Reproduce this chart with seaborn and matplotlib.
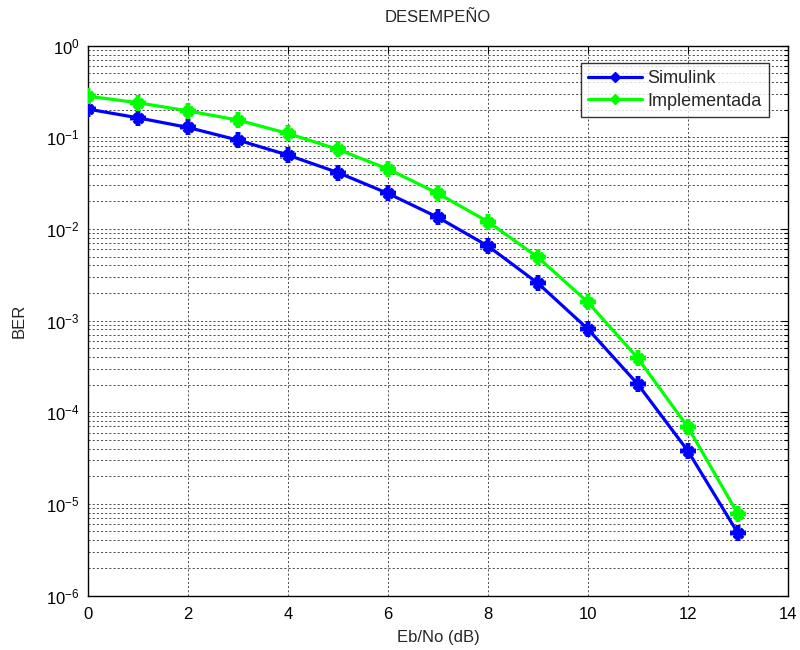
import matplotlib
matplotlib.use("Agg")
import matplotlib.pyplot as plt
import matplotlib.ticker as mticker
import numpy as np
import pandas as pd
import seaborn as sns

# Eb/No sweep and measured bit error rates
ebno_db = list(range(0, 14))
ber_simulink = [0.203, 0.163, 0.128, 0.0931, 0.0639, 0.0412, 0.0244, 0.01336,
                0.0065, 0.00255, 8.07e-4, 2.01e-4, 3.77e-5, 4.77e-6]
ber_implementada = [0.281, 0.238, 0.194, 0.154, 0.110, 0.0738, 0.0450, 0.0244,
                    0.01197, 0.0049, 1.58e-3, 3.87e-4, 6.85e-5, 7.74e-6]
series_names = ["Simulink", "Implementada"]
series_colors = ["#0000ff", "#00ff00"]
y_decades = [-6, -5, -4, -3, -2, -1, 0]

df = pd.DataFrame({
    "EbNo": ebno_db * 2,
    "BER": ber_simulink + ber_implementada,
    "Serie": [series_names[0]] * len(ebno_db) + [series_names[1]] * len(ebno_db),
})

sns.set_theme(style="white")
plt.rcParams["font.family"] = ["Liberation Sans", "DejaVu Sans"]
plt.rcParams["mathtext.default"] = "regular"

fig = plt.figure(figsize=(8, 6.5), dpi=100)
ax = fig.add_axes([0.11, 0.0838, 0.875, 0.846])

palette = dict(zip(series_names, series_colors))
sns.lineplot(data=df, x="EbNo", y="BER", hue="Serie",
             palette=palette, linewidth=2.3, ax=ax, zorder=3)

# asterisk markers (plus + cross) drawn in each line's own colour
asterisk = (4, 2, 0)
cross = (4, 2, 45)
for line in list(ax.lines):
    col = line.get_color()
    line.set_marker(asterisk)
    line.set_markersize(12)
    line.set_markeredgewidth(3.2)
    line.set_markeredgecolor(col)
    x, y = line.get_data()
    ax.plot(x, y, linestyle="none", marker=cross, markersize=9,
            markeredgewidth=2.6, markeredgecolor=col, zorder=3)

ax.set_yscale("log")
ax.set_xlim(0, 14)
ax.set_ylim(1e-6, 1)
ax.set_xticks(range(0, 15, 2))
ax.yaxis.set_major_locator(mticker.FixedLocator([10.0 ** d for d in y_decades]))
ax.yaxis.set_minor_locator(mticker.LogLocator(base=10, subs=np.arange(2, 10), numticks=20))
ax.yaxis.set_major_formatter(mticker.FuncFormatter(lambda v, p: r"$10^{%d}$" % round(np.log10(v))))
ax.yaxis.set_minor_formatter(mticker.NullFormatter())

grid_kw = dict(color="0.2", linestyle=(0, (2.5, 2.5)), linewidth=0.6)
ax.grid(True, which="major", axis="both", **grid_kw)
ax.grid(True, which="minor", axis="y", **grid_kw)
ax.set_axisbelow(True)

ax.tick_params(which="both", direction="in", top=True, right=True,
               labelsize=12, colors="black", width=0.8)
ax.tick_params(which="major", length=5)
ax.tick_params(which="minor", length=3)
ax.tick_params(axis="x", which="major", pad=8)
ax.tick_params(axis="y", which="major", pad=6)
for s in ax.spines.values():
    s.set_color("black")
    s.set_linewidth(1.0)

ax.set_title("DESEMPEÑO", fontsize=12, pad=17)
ax.set_xlabel("Eb/No (dB)", fontsize=12, labelpad=6)
ax.set_ylabel("BER", fontsize=12, labelpad=14)

handles, labels = ax.get_legend_handles_labels()
leg = ax.legend(handles[:2], labels[:2], loc="upper right",
                bbox_to_anchor=(0.986, 0.985), fontsize=13,
                frameon=True, fancybox=False, edgecolor="black",
                handlelength=3.0, borderpad=0.4, labelspacing=0.3,
                handletextpad=0.3)
leg.get_frame().set_linewidth(1.0)
for h in leg.legend_handles:
    h.set_marker("D")
    h.set_markersize(5)
    h.set_markeredgewidth(1)
    h.set_markeredgecolor(h.get_color())
    h.set_markerfacecolor(h.get_color())

fig.savefig("out.png", dpi=100, facecolor="white")
